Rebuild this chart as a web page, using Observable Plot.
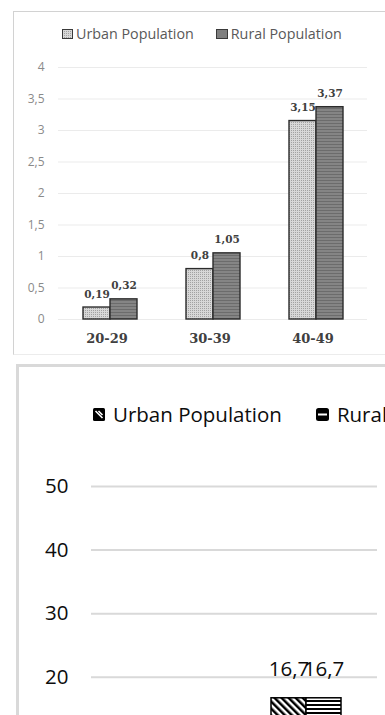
<!DOCTYPE html>
<html>
<head>
<meta charset="utf-8">
<script src="https://cdn.jsdelivr.net/npm/d3@7"></script>
<script src="https://cdn.jsdelivr.net/npm/@observablehq/plot@0.6"></script>
<style>
  html, body { margin: 0; padding: 0; width: 385px; height: 715px; overflow: hidden; background: #fff; }
  .abs { position: absolute; }
  .frame-top { left: 13px; top: 11px; width: 420px; height: 342px;
    border-left: 1.5px solid #d2d2d2; border-top: 1px solid #d2d2d2; border-bottom: 1px solid #ececec; }
  .frame-bottom { left: 16px; top: 364px; width: 420px; height: 420px;
    border-left: 3px solid #d9d9d9; border-top: 3px solid #d9d9d9; }
  .legend { display: flex; align-items: center; white-space: nowrap; }
  .legend .item { display: flex; align-items: center; }
  .legend svg { display: block; }
  .legend-top { left: 62px; top: 24px; font: 14.3px 'Open Sans', sans-serif; color: #595959; gap: 22px; }
  .legend-top .item span { margin-left: 3px; }
  .legend-bottom { left: 93px; top: 400px; font: 20.5px 'Open Sans', sans-serif; color: #0d0d0d; gap: 34px; }
  .legend-bottom .item span { margin-left: 8px; }
</style>
</head>
<body>
<!-- fill patterns shared by the bars and the legend swatches -->
<svg width="0" height="0" style="position:absolute">
  <defs>
    <pattern id="urban-dots" width="2" height="2" patternUnits="userSpaceOnUse">
      <rect width="2" height="2" fill="#d8d8d8"/>
      <rect width="1" height="1" fill="#a2a2a2"/>
    </pattern>
    <pattern id="rural-stripes" width="3" height="3" patternUnits="userSpaceOnUse">
      <rect width="3" height="3" fill="#858585"/>
      <rect width="3" height="1" fill="#6c6c6c"/>
    </pattern>
    <pattern id="urban-diagonal" width="5" height="5" patternUnits="userSpaceOnUse" patternTransform="rotate(-45)">
      <rect width="5" height="5" fill="#fff"/>
      <rect width="2.5" height="5" fill="#000"/>
    </pattern>
    <pattern id="rural-lines" width="4" height="4" patternUnits="userSpaceOnUse">
      <rect width="4" height="4" fill="#fff"/>
      <rect width="4" height="2" fill="#000"/>
    </pattern>
  </defs>
</svg>

<div class="abs frame-top"></div>
<div class="abs frame-bottom"></div>
<div id="share-chart" class="abs" style="left:0;top:0;width:385px"></div>
<div id="count-chart" class="abs" style="left:0;top:364px;width:541px"></div>

<div class="abs legend legend-top">
  <div class="item">
    <svg width="11" height="10"><rect x="0.5" y="0.5" width="10" height="9" fill="url(#urban-dots)" stroke="#3a3a3a"/></svg>
    <span>Urban Population</span>
  </div>
  <div class="item">
    <svg width="12" height="10"><rect x="0.5" y="0.5" width="11" height="9" fill="#7f7f7f" stroke="#3a3a3a"/></svg>
    <span>Rural Population</span>
  </div>
</div>

<div class="abs legend legend-bottom">
  <div class="item">
    <svg width="12" height="13"><rect width="12" height="13" rx="1.5" fill="#000"/>
      <path d="M2.5 3 L9.5 10 M5.5 3 L9.5 7" stroke="#fff" stroke-width="1.6"/></svg>
    <span>Urban Population</span>
  </div>
  <div class="item">
    <svg width="13" height="13"><rect width="13" height="13" rx="2.5" fill="#000"/>
      <rect x="2" y="5.5" width="9" height="2" fill="#fff"/></svg>
    <span>Rural</span>
  </div>
</div>

<script>
// Age groups and the two population series
const ageGroups = ["20-29", "30-39", "40-49"];
const seriesNames = ["Urban Population", "Rural Population"];

// Upper chart: share values per age group
const urbanShare = [0.19, 0.8, 3.15];
const ruralShare = [0.32, 1.05, 3.37];
const shareTicks = [0, 0.5, 1, 1.5, 2, 2.5, 3, 3.5, 4];

// Lower chart: values per age group (null where no bar is shown)
const urbanCount = [8.2, 16.7, null];
const ruralCount = [null, 16.7, null];
const countTicks = [0, 10, 20, 30, 40, 50];

const comma = v => String(v).replace(".", ",");
const serif = "'DejaVu Serif', serif";
const sans = "'Open Sans', sans-serif";

function rows(urban, rural) {
  return ageGroups.flatMap((age, i) => [
    {age, series: seriesNames[0], value: urban[i]},
    {age, series: seriesNames[1], value: rural[i]}
  ]).filter(d => d.value != null);
}

const shareRows = rows(urbanShare, ruralShare);
const countRows = rows(urbanCount, ruralCount);

const shareFill = {"Urban Population": "url(#urban-dots)", "Rural Population": "url(#rural-stripes)"};
const countFill = {"Urban Population": "url(#urban-diagonal)", "Rural Population": "url(#rural-lines)"};

const sharePlot = Plot.plot({
  width: 385, height: 355,
  marginLeft: 57, marginRight: 17, marginTop: 67, marginBottom: 36,
  style: {background: "transparent", overflow: "visible", maxWidth: "none"},
  fx: {domain: ageGroups, padding: 0, label: null},
  x: {domain: seriesNames, paddingInner: 0, paddingOuter: 0.85, axis: null},
  y: {domain: [0, 4], label: null},
  color: {type: "identity"},
  marks: [
    Plot.ruleY(shareTicks, {stroke: "#ebebeb", strokeWidth: 1}),
    Plot.axisY({ticks: shareTicks, tickFormat: comma, tickSize: 0, tickPadding: 14,
      fontSize: 12, fill: "#8a8a8a", fontFamily: sans, label: null}),
    Plot.axisFx({anchor: "bottom", tickSize: 0, tickPadding: 14, dx: -3, fontSize: 13,
      fontWeight: "bold", fill: "#404040", fontFamily: serif, label: null}),
    Plot.barY(shareRows, {fx: "age", x: "series", y: "value",
      fill: d => shareFill[d.series], stroke: "#2b2b2b", strokeWidth: 1.4}),
    Plot.text(shareRows, {fx: "age", x: "series", y: "value", text: d => comma(d.value),
      lineAnchor: "bottom", dy: -10, fontSize: 10.5, fontWeight: "bold", fill: "#404040", fontFamily: serif})
  ]
});
document.getElementById("share-chart").append(sharePlot);

const countPlot = Plot.plot({
  width: 541, height: 500,
  marginLeft: 90, marginRight: 20, marginTop: 122, marginBottom: 60,
  style: {background: "transparent", overflow: "visible", maxWidth: "none"},
  fx: {domain: ageGroups, padding: 0, label: null},
  x: {domain: seriesNames, paddingInner: 0, paddingOuter: 1.02, axis: null},
  y: {domain: [0, 50], label: null},
  color: {type: "identity"},
  marks: [
    Plot.ruleY(countTicks, {stroke: "#d9d9d9", strokeWidth: 2}),
    Plot.axisY({ticks: countTicks, tickFormat: comma, tickSize: 0, tickPadding: 23,
      fontSize: 20.5, fill: "#0d0d0d", fontFamily: sans, label: null}),
    Plot.axisFx({anchor: "bottom", tickSize: 0, tickPadding: 16, fontSize: 20.5,
      fill: "#0d0d0d", fontFamily: sans, label: null}),
    Plot.barY(countRows, {fx: "age", x: "series", y: "value",
      fill: d => countFill[d.series], stroke: "#000", strokeWidth: 1.5}),
    Plot.text(countRows, {fx: "age", x: "series", y: "value", text: d => comma(d.value),
      lineAnchor: "bottom", dy: -22, fontSize: 20.5, fill: "#0d0d0d", fontFamily: sans})
  ]
});
document.getElementById("count-chart").append(countPlot);
</script>
</body>
</html>
